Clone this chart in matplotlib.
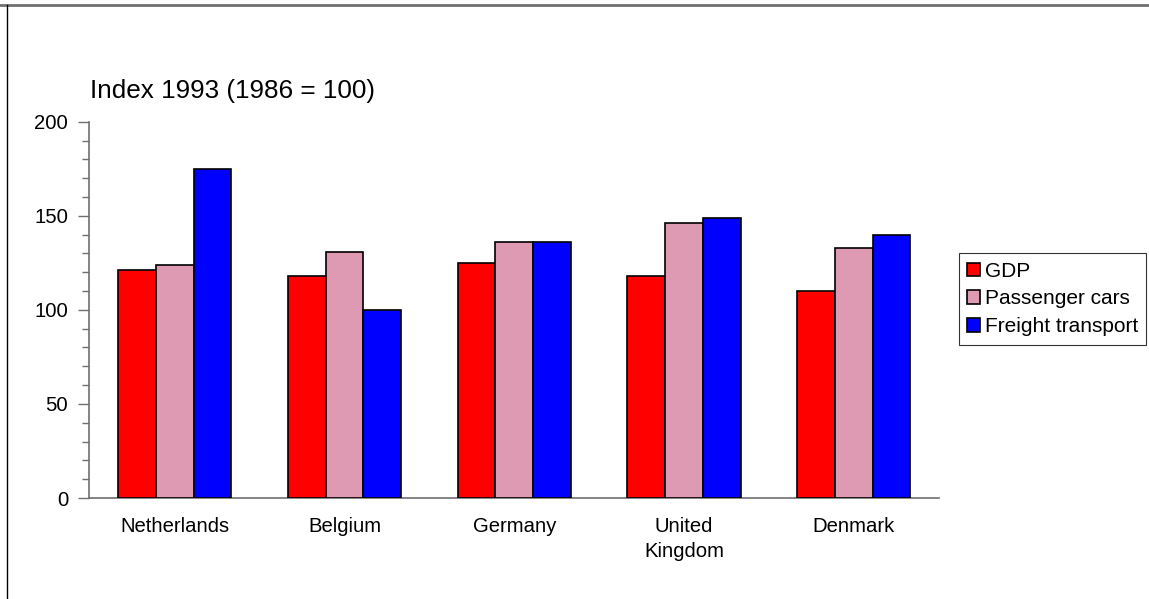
import matplotlib.pyplot as plt
import numpy as np
from matplotlib.lines import Line2D
from matplotlib.ticker import MultipleLocator

plt.rcParams['font.family'] = ['Liberation Sans', 'DejaVu Sans']

countries = ['Netherlands', 'Belgium', 'Germany', 'United\nKingdom', 'Denmark']
gdp = [121, 118, 125, 118, 110]
passenger_cars = [124, 131, 136, 146, 133]
freight = [175, 100, 136, 149, 140]

series = [
    ('GDP', gdp, '#FF0000'),
    ('Passenger cars', passenger_cars, '#DE9AB2'),
    ('Freight transport', freight, '#0000FF'),
]

fig = plt.figure(figsize=(11.49, 5.99), dpi=100)
ax = fig.add_axes([0.0775, 0.1686, 0.7395, 0.6282])

x = np.arange(len(countries))
width = 1 / 4.5
for i, (name, vals, col) in enumerate(series):
    ax.bar(x + (i - 1) * width, vals, width, color=col, edgecolor='black',
           linewidth=1.2, label=name, zorder=3)

ax.set_xlim(-0.505, len(countries) - 0.5)
ax.set_ylim(0, 200)
ax.yaxis.set_major_locator(MultipleLocator(50))
ax.yaxis.set_minor_locator(MultipleLocator(10))
ax.set_xticks(x)
ax.set_xticklabels(countries, fontsize=14.6, linespacing=1.35)
ax.tick_params(axis='x', length=0, pad=14)
ax.tick_params(axis='y', which='major', length=8, width=1, color='#707070',
               labelsize=14.6, pad=7)
ax.tick_params(axis='y', which='minor', length=5, width=1, color='#707070')

for s in ['top', 'right']:
    ax.spines[s].set_visible(False)
for s in ['left', 'bottom']:
    ax.spines[s].set_color('#707070')
    ax.spines[s].set_linewidth(1.2)

fig.text(90 / 1149, 1 - 97.7 / 599, 'Index 1993 (1986 = 100)', fontsize=18.8,
         ha='left', va='baseline')

leg = ax.legend(loc='center left', bbox_to_anchor=(959 / 1149, 300 / 599),
                bbox_transform=fig.transFigure, fontsize=15, frameon=True,
                fancybox=False, edgecolor='black', handlelength=0.62,
                handleheight=0.62, handletextpad=0.22, labelspacing=0.42,
                borderpad=0.4, borderaxespad=0)
leg.get_frame().set_linewidth(0.8)

# frame lines around the figure area
fig.add_artist(Line2D([0, 1], [1 - 5 / 599, 1 - 5 / 599], color='#707070',
                      linewidth=2, transform=fig.transFigure))
fig.add_artist(Line2D([7 / 1149, 7 / 1149], [0, 1 - 5 / 599], color='black',
                      linewidth=1, transform=fig.transFigure))

fig.savefig('out.png', dpi=100)
